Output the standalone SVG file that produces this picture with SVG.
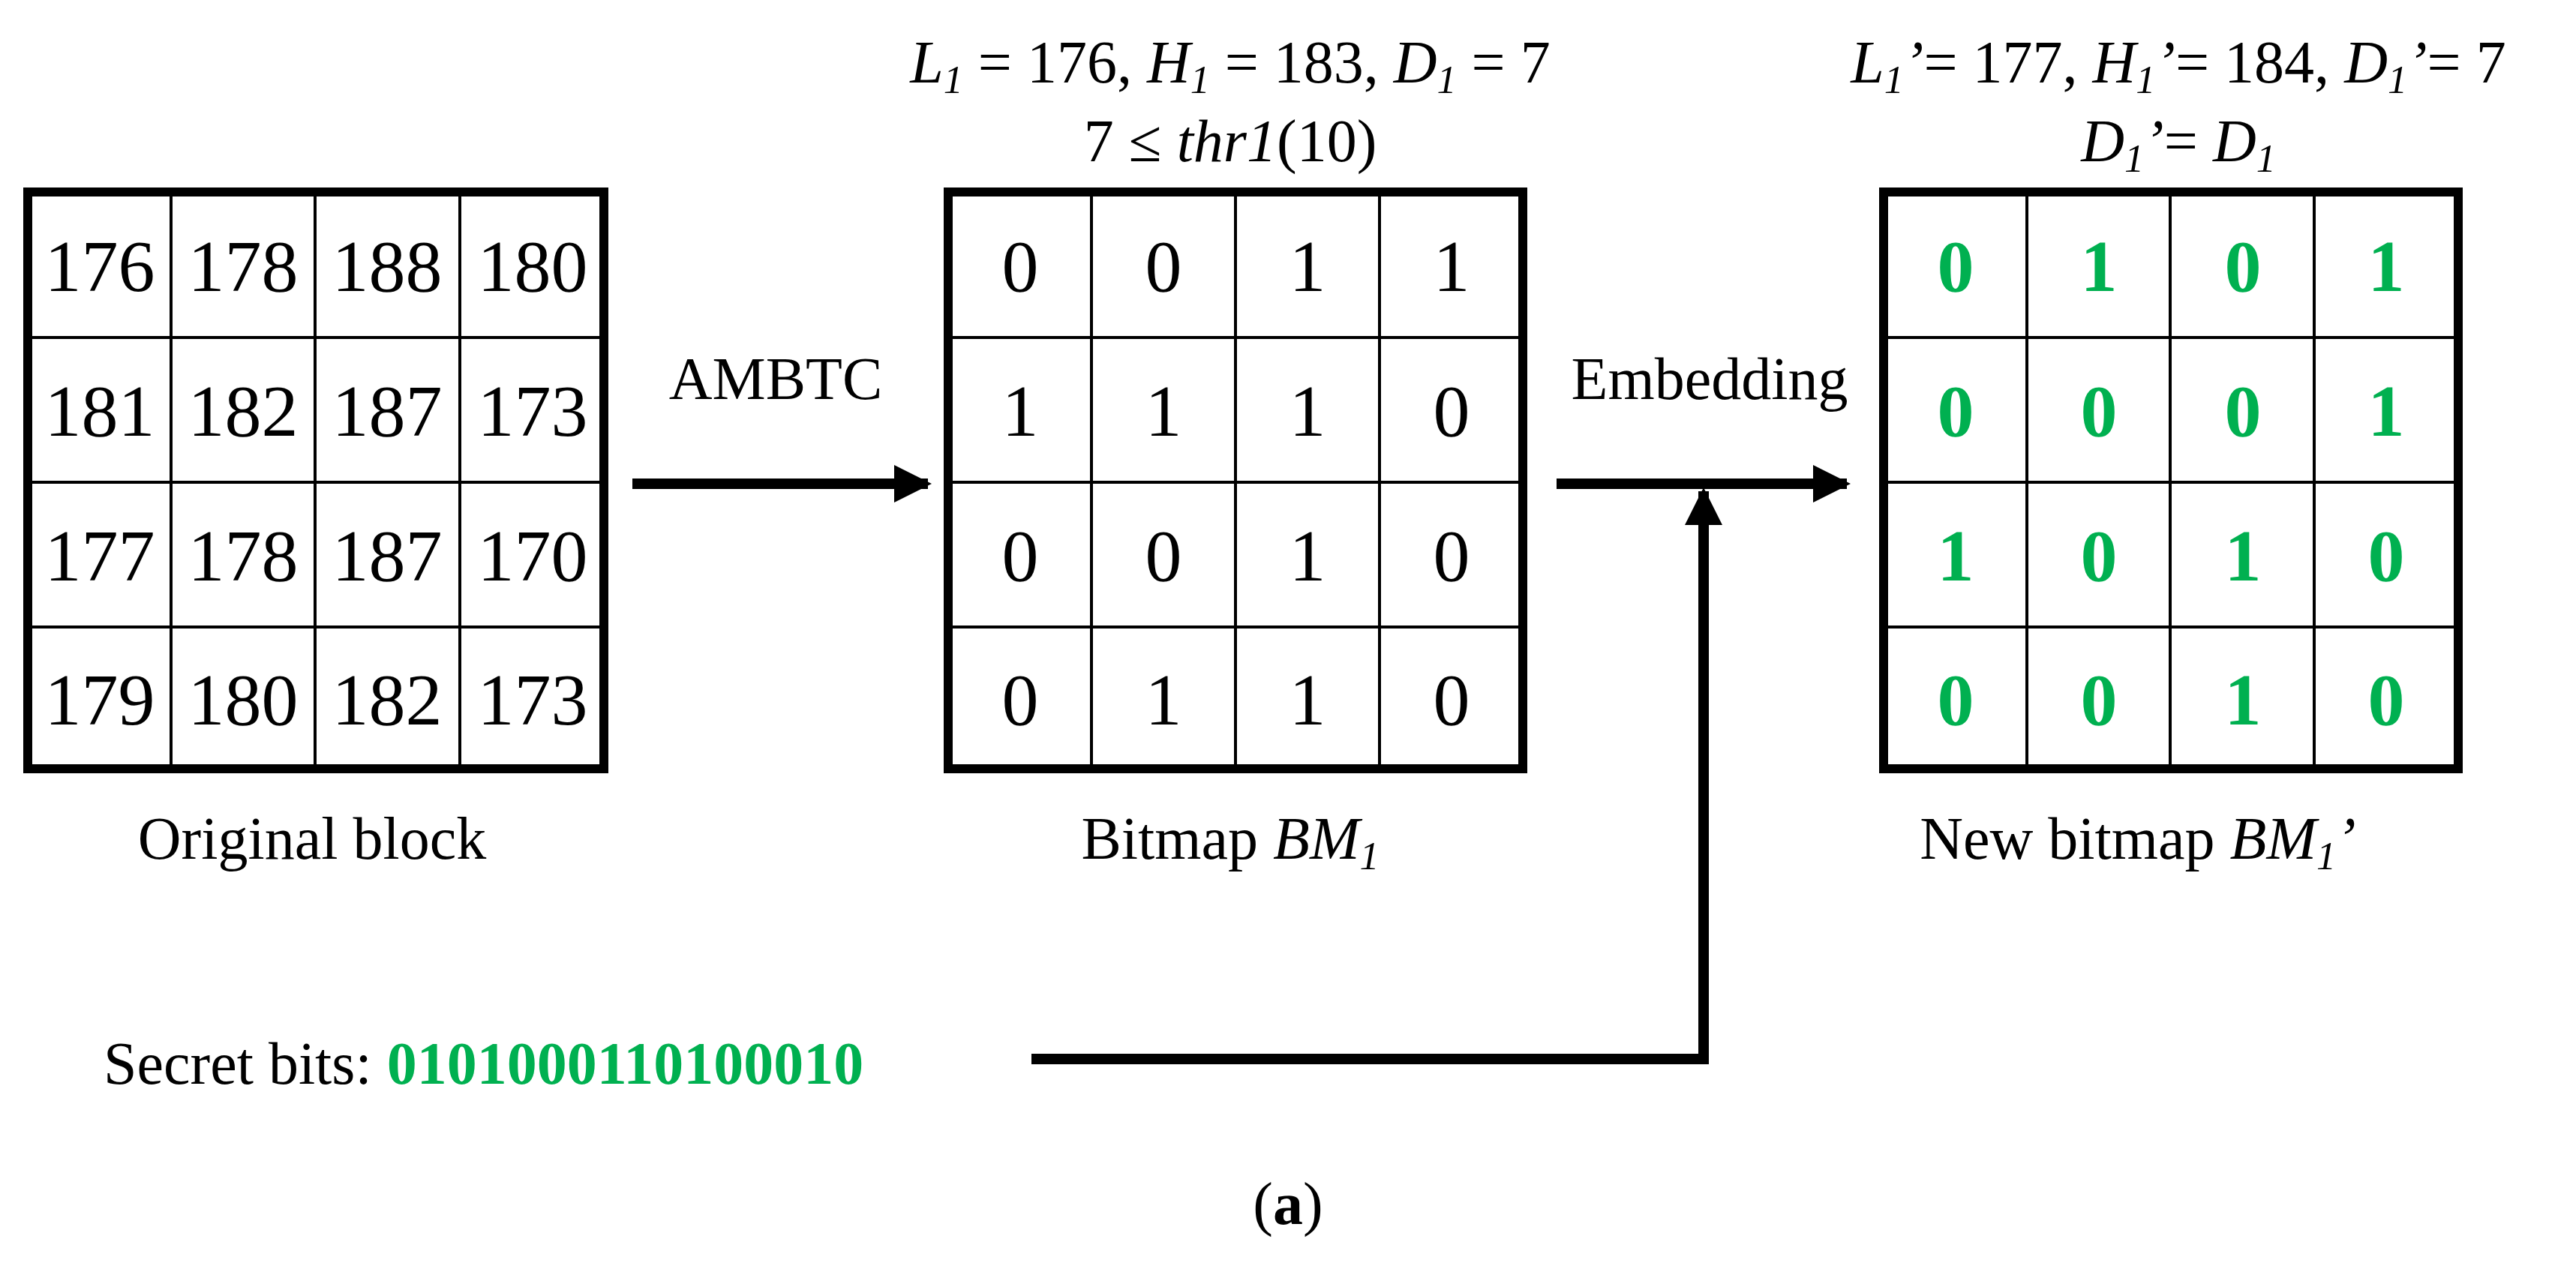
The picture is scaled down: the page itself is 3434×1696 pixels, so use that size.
<svg xmlns="http://www.w3.org/2000/svg" width="3434" height="1696" viewBox="0 0 3434 1696">
<style>
text{font-family:"Liberation Serif","Times New Roman",serif;fill:#000}
.n{font-size:98px;text-anchor:middle}
.g{font-size:98px;text-anchor:middle;font-weight:bold;fill:#00B050}
.l{font-size:80px;text-anchor:middle}
.in{stroke:#000;stroke-width:4}
.out{fill:none;stroke:#000;stroke-width:12}
.c{stroke:#000;stroke-width:14;fill:none}
</style>
<defs>
<marker id="ah" viewBox="0 0 10 10" refX="9" refY="5" markerWidth="3.6" markerHeight="3.6" orient="auto" markerUnits="strokeWidth"><path d="M0,0L10,5L0,10z" fill="#000"/></marker>
</defs>
<rect width="3434" height="1696" fill="#fff"/>
<g id="original">
<path class="in" d="M228,256V1025M420,256V1025M613,256V1025M37,450H805M37,643H805M37,836H805"/>
<rect class="out" x="37" y="256" width="768" height="769"/>
<text class="n" x="133" y="388">176</text><text class="n" x="324" y="388">178</text><text class="n" x="516" y="388">188</text><text class="n" x="710" y="388">180</text>
<text class="n" x="133" y="581">181</text><text class="n" x="324" y="581">182</text><text class="n" x="516" y="581">187</text><text class="n" x="710" y="581">173</text>
<text class="n" x="133" y="774">177</text><text class="n" x="324" y="774">178</text><text class="n" x="516" y="774">187</text><text class="n" x="710" y="774">170</text>
<text class="n" x="133" y="966">179</text><text class="n" x="324" y="966">180</text><text class="n" x="516" y="966">182</text><text class="n" x="710" y="966">173</text>
<text class="l" x="416" y="1145">Original block</text>
</g>
<g id="bitmap">
<path class="in" d="M1455,256V1025M1647,256V1025M1839,256V1025M1264,450H2030M1264,643H2030M1264,836H2030"/>
<rect class="out" x="1264" y="256" width="766" height="769"/>
<text class="n" x="1360" y="388">0</text><text class="n" x="1551" y="388">0</text><text class="n" x="1743" y="388">1</text><text class="n" x="1935" y="388">1</text>
<text class="n" x="1360" y="581">1</text><text class="n" x="1551" y="581">1</text><text class="n" x="1743" y="581">1</text><text class="n" x="1935" y="581">0</text>
<text class="n" x="1360" y="774">0</text><text class="n" x="1551" y="774">0</text><text class="n" x="1743" y="774">1</text><text class="n" x="1935" y="774">0</text>
<text class="n" x="1360" y="966">0</text><text class="n" x="1551" y="966">1</text><text class="n" x="1743" y="966">1</text><text class="n" x="1935" y="966">0</text>
<text class="l" x="1640" y="110"><tspan font-style="italic">L<tspan font-size="52" dy="14">1</tspan></tspan><tspan dy="-14"> = 176, </tspan><tspan font-style="italic">H<tspan font-size="52" dy="14">1</tspan></tspan><tspan dy="-14"> = 183, </tspan><tspan font-style="italic">D<tspan font-size="52" dy="14">1</tspan></tspan><tspan dy="-14"> = 7</tspan></text>
<text class="l" x="1640" y="215">7 ≤ <tspan font-style="italic">thr1</tspan>(10)</text>
<text class="l" x="1640" y="1145">Bitmap <tspan font-style="italic">BM<tspan font-size="52" dy="14">1</tspan></tspan></text>
</g>
<g id="newbitmap">
<path class="in" d="M2702,256V1025M2893,256V1025M3085,256V1025M2511,450H3277M2511,643H3277M2511,836H3277"/>
<rect class="out" x="2511" y="256" width="766" height="769"/>
<text class="g" x="2607" y="388">0</text><text class="g" x="2798" y="388">1</text><text class="g" x="2990" y="388">0</text><text class="g" x="3181" y="388">1</text>
<text class="g" x="2607" y="581">0</text><text class="g" x="2798" y="581">0</text><text class="g" x="2990" y="581">0</text><text class="g" x="3181" y="581">1</text>
<text class="g" x="2607" y="774">1</text><text class="g" x="2798" y="774">0</text><text class="g" x="2990" y="774">1</text><text class="g" x="3181" y="774">0</text>
<text class="g" x="2607" y="966">0</text><text class="g" x="2798" y="966">0</text><text class="g" x="2990" y="966">1</text><text class="g" x="3181" y="966">0</text>
<text class="l" x="2904" y="110"><tspan font-style="italic">L<tspan font-size="52" dy="14">1</tspan></tspan><tspan dy="-14" font-style="italic">’</tspan><tspan>= 177, </tspan><tspan font-style="italic">H<tspan font-size="52" dy="14">1</tspan></tspan><tspan dy="-14" font-style="italic">’</tspan><tspan>= 184, </tspan><tspan font-style="italic">D<tspan font-size="52" dy="14">1</tspan></tspan><tspan dy="-14" font-style="italic">’</tspan><tspan>= 7</tspan></text>
<text class="l" x="2904" y="215"><tspan font-style="italic">D<tspan font-size="52" dy="14">1</tspan></tspan><tspan dy="-14" font-style="italic">’</tspan><tspan>= </tspan><tspan font-style="italic">D<tspan font-size="52" dy="14">1</tspan></tspan></text>
<text class="l" x="2850" y="1145">New bitmap <tspan font-style="italic">BM<tspan font-size="52" dy="14">1</tspan></tspan><tspan dy="-14" font-style="italic">’</tspan></text>
</g>
<g id="secret">
<text x="138" y="1445" font-size="80">Secret bits: <tspan font-weight="bold" fill="#00B050">010100011010001​0</tspan></text>
</g>
<g id="connectors">
<line class="c" x1="843" y1="645" x2="1237" y2="645" marker-end="url(#ah)"/>
<text class="l" x="1034" y="532">AMBTC</text>
<line class="c" x1="2075" y1="645" x2="2462" y2="645" marker-end="url(#ah)"/>
<text class="l" x="2279" y="532">Embedding</text>
<path class="c" d="M1375,1412H2271V655" marker-end="url(#ah)"/>
</g>
<text x="1717" y="1632" font-size="80" text-anchor="middle">(<tspan font-weight="bold">a</tspan>)</text>
</svg>
